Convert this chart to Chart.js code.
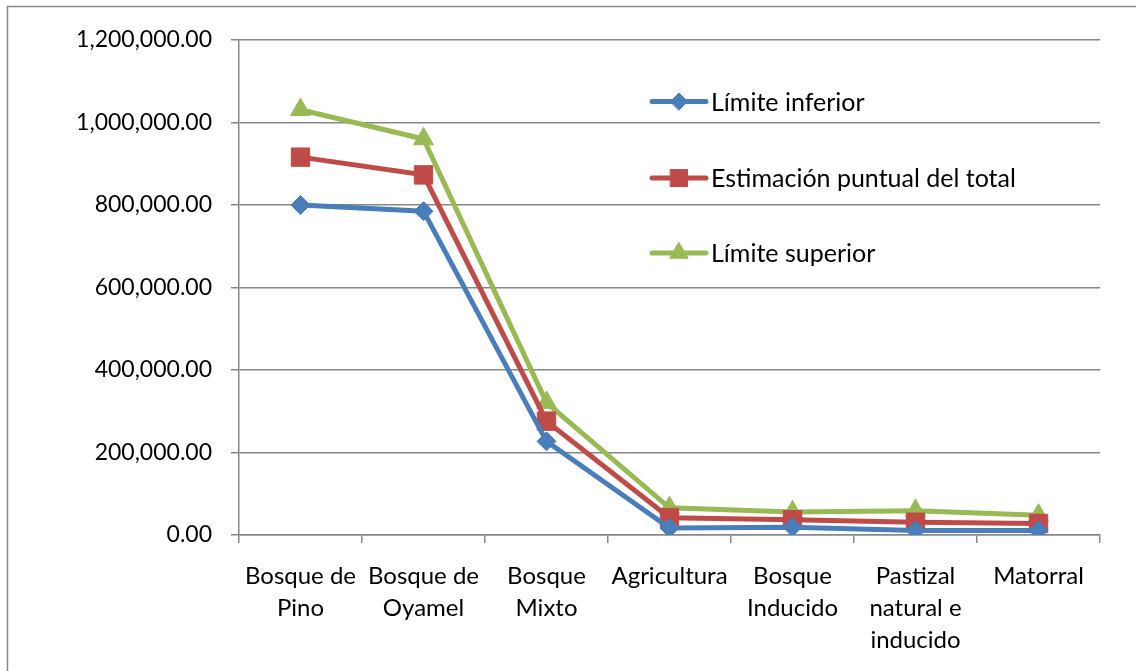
<!DOCTYPE html>
<html>
<head>
<meta charset="utf-8">
<script src="https://cdn.jsdelivr.net/npm/chart.js@4/dist/chart.umd.min.js"></script>
<style>
  html, body { margin: 0; padding: 0; background: #ffffff; }
  #wrap { width: 1136px; height: 671px; position: relative; }
</style>
</head>
<body>
<div id="wrap"><canvas id="chart" width="1136" height="671"></canvas></div>
<script>
// Categorías de uso de suelo (etiquetas del eje X, en varias líneas)
const categories = [
  ['Bosque de', 'Pino'],
  ['Bosque de', 'Oyamel'],
  ['Bosque', 'Mixto'],
  ['Agricultura'],
  ['Bosque', 'Inducido'],
  ['Pastizal', 'natural e', 'inducido'],
  ['Matorral']
];

// Series
const limiteInferior = [800000, 785000, 227000, 17000, 19000, 11000, 11000];
const estimacionPuntual = [916000, 873000, 276000, 42000, 37000, 31000, 28000];
const limiteSuperior = [1031000, 960000, 321000, 66000, 56000, 59000, 48000];

const seriesNames = ['Límite inferior', 'Estimación puntual del total', 'Límite superior'];

// Eje Y
const yTicks = [0, 200000, 400000, 600000, 800000, 1000000, 1200000];

const FONT = 'Lato, "Open Sans", sans-serif';
const GRID = '#878787';

const fmt = v => v.toLocaleString('en-US', { minimumFractionDigits: 2, maximumFractionDigits: 2 });

// Marco exterior del gráfico
const framePlugin = {
  id: 'frame',
  beforeDraw(chart) {
    const ctx = chart.ctx;
    ctx.save();
    ctx.fillStyle = '#ffffff';
    ctx.fillRect(0, 0, chart.width, chart.height);
    ctx.strokeStyle = GRID;
    ctx.lineWidth = 1.5;
    ctx.beginPath();
    ctx.moveTo(7.5, chart.height + 5);
    ctx.lineTo(7.5, 6.5);
    ctx.lineTo(chart.width + 5, 6.5);
    ctx.stroke();
    ctx.restore();
  }
};

// Leyenda dentro del área de trazado
const insideLegend = {
  id: 'insideLegend',
  afterDatasetsDraw(chart) {
    const ctx = chart.ctx;
    const area = chart.chartArea;
    const x0 = area.left + 413;
    const x1 = x0 + 54;
    const rows = [101.5, 178, 253];
    ctx.save();
    chart.data.datasets.forEach((ds, i) => {
      const y = rows[i];
      ctx.strokeStyle = ds.borderColor;
      ctx.lineWidth = ds.borderWidth;
      ctx.lineCap = 'round';
      ctx.beginPath();
      ctx.moveTo(x0, y);
      ctx.lineTo(x1, y);
      ctx.stroke();
      ctx.fillStyle = ds.pointBackgroundColor;
      ctx.strokeStyle = ds.pointBorderColor;
      ctx.lineWidth = 1;
      Chart.helpers.drawPoint(ctx, {
        pointStyle: ds.pointStyle,
        radius: ds.legendRadius,
        borderWidth: 1,
        rotation: 0
      }, (x0 + x1) / 2, y);
      ctx.fillStyle = '#000000';
      ctx.font = '25px ' + FONT;
      ctx.textAlign = 'left';
      ctx.textBaseline = 'middle';
      ctx.fillText(ds.label, x1 + 5, y + 1);
    });
    ctx.restore();
  }
};

function series(label, data, color, style, radius, legendRadius) {
  return {
    label, data,
    borderColor: color,
    backgroundColor: color,
    borderWidth: 5,
    pointStyle: style,
    pointRadius: radius,
    pointBackgroundColor: color,
    pointBorderColor: color,
    pointBorderWidth: 1,
    legendRadius,
    tension: 0,
    fill: false
  };
}

new Chart(document.getElementById('chart'), {
  type: 'line',
  data: {
    labels: categories,
    datasets: [
      series(seriesNames[0], limiteInferior, '#4A7EBB', 'rectRot', 9.5, 8.5),
      series(seriesNames[1], estimacionPuntual, '#BE4B48', 'rect', 13, 12),
      series(seriesNames[2], limiteSuperior, '#98B954', 'triangle', 11.5, 10.5)
    ]
  },
  options: {
    responsive: false,
    animation: false,
    events: [],
    layout: { padding: { left: 0, top: 40, right: 36, bottom: 0 } },
    plugins: { legend: { display: false }, tooltip: { enabled: false } },
    scales: {
      x: {
        offset: true,
        grid: {
          offset: true,
          drawOnChartArea: false,
          drawTicks: true,
          tickLength: 8,
          color: GRID,
          lineWidth: 1.5
        },
        border: { display: true, color: GRID, width: 1.5 },
        ticks: {
          color: '#000000',
          font: { family: FONT, size: 24, lineHeight: 1.34 },
          padding: 17,
          maxRotation: 0,
          autoSkip: false
        },
        afterFit(scale) {
          scale.height = 136;
          scale.paddingLeft = 0;
          scale.paddingRight = 0;
        }
      },
      y: {
        min: 0,
        max: 1200000,
        afterBuildTicks(scale) {
          scale.ticks = yTicks.map(v => ({ value: v }));
        },
        grid: {
          color: GRID,
          lineWidth: 1.5,
          drawTicks: true,
          tickLength: 8
        },
        border: { display: true, color: GRID, width: 1.5 },
        ticks: {
          color: '#000000',
          font: { family: FONT, size: 23 },
          padding: 19,
          callback: v => fmt(v)
        },
        afterFit(scale) {
          scale.width = 239;
          scale.paddingTop = 0;
          scale.paddingBottom = 0;
        }
      }
    }
  },
  plugins: [framePlugin, insideLegend]
});
</script>
</body>
</html>
